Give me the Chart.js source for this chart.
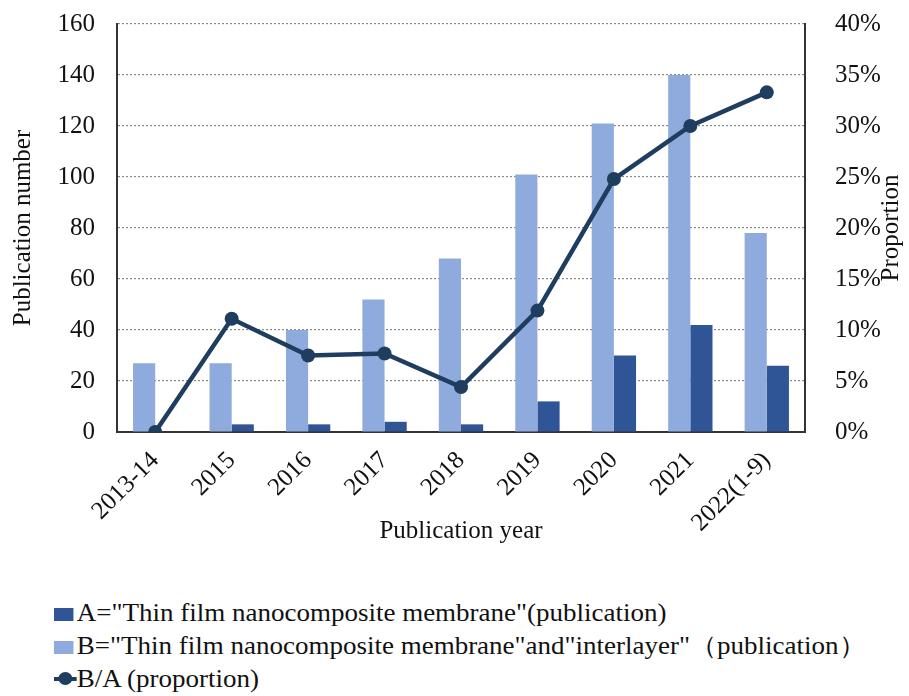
<!DOCTYPE html>
<html>
<head>
<meta charset="utf-8">
<script src="https://cdn.jsdelivr.net/npm/chart.js@4"></script>
<style>
  body { margin: 0; background: #fff; }
  #wrap { position: relative; width: 909px; height: 696px; }
  #legend { position: absolute; left: 54px; top: 596px; font-family: "Liberation Serif", serif; font-size: 25px; color: #111;
    transform: scaleX(1.08); transform-origin: left top; }
  .item { display: flex; align-items: center; height: 33px; }
  .box { width: 18px; height: 13px; margin-right: 3px; margin-top: 3px; }
  .lineMark { position: relative; width: 21px; height: 19px; margin-right: 0; }
  .lineMark::before { content: ''; position: absolute; left: 0; right: 0; top: 8px; height: 4px; background: var(--c); }
  .lineMark::after { content: ''; position: absolute; left: 4px; top: 3px; width: 13px; height: 13px; border-radius: 50%; background: var(--c); }
</style>
</head>
<body>
<div id="wrap">
  <canvas id="chart" width="909" height="560"></canvas>
  <div id="legend"></div>
</div>
<script>
const years = ['2013-14', '2015', '2016', '2017', '2018', '2019', '2020', '2021', '2022(1-9)']
const pubA = [0, 3, 3, 4, 3, 12, 30, 42, 26]
const pubB = [27, 27, 40, 52, 68, 101, 121, 140, 78]
const proportion = [0, 11.1, 7.5, 7.7, 4.4, 11.9, 24.8, 30.0, 33.3]
const leftTicks = [0, 20, 40, 60, 80, 100, 120, 140, 160]
const rightTicks = [0, 5, 10, 15, 20, 25, 30, 35, 40]

const labelA = 'A="Thin film nanocomposite membrane"(publication)'
const labelB = 'B="Thin film nanocomposite membrane"and"interlayer"（publication）'
const labelC = 'B/A (proportion)'

const colorA = '#2F5597'
const colorB = '#8FAADC'
const colorLine = '#1F3D5F'
const serif = '"Liberation Serif", "Times New Roman", serif'
const tickFont = { family: serif, size: 25 }

// right axis title reads bottom-to-top like the left one
const rightTitle = {
  id: 'rightTitle',
  afterDraw(c) {
    const { ctx, chartArea } = c
    ctx.save()
    ctx.translate(891, (chartArea.top + chartArea.bottom) / 2)
    ctx.rotate(-Math.PI / 2)
    ctx.font = `25px ${serif}`
    ctx.fillStyle = '#111'
    ctx.textAlign = 'center'
    ctx.textBaseline = 'middle'
    ctx.fillText('Proportion', 0, 0)
    ctx.restore()
  }
}

// keep the plot top where the reference has it
function fitVertical(width) {
  return s => {
    s.width = width
    s.paddingTop = 0
    s.paddingBottom = 0
  }
}

const chart = new Chart(document.getElementById('chart'), {
  type: 'bar',
  data: {
    labels: years,
    datasets: [
      { label: labelB, data: pubB, backgroundColor: colorB, yAxisID: 'y', order: 1,
        categoryPercentage: 0.58, barPercentage: 1 },
      { label: labelA, data: pubA, backgroundColor: colorA, yAxisID: 'y', order: 1,
        categoryPercentage: 0.58, barPercentage: 1 },
      { type: 'line', label: labelC, data: proportion, yAxisID: 'y1', order: 0,
        borderColor: colorLine, backgroundColor: colorLine, borderWidth: 4.5,
        pointRadius: 7, pointBackgroundColor: colorLine, pointBorderWidth: 0 },
    ]
  },
  options: {
    responsive: false,
    animation: false,
    layout: { padding: { top: 24, left: 8, right: 8, bottom: 0 } },
    plugins: { legend: { display: false }, tooltip: { enabled: false } },
    scales: {
      x: {
        grid: { display: false },
        border: { display: true, color: '#333', width: 2 },
        ticks: { font: tickFont, color: '#111', minRotation: 45, maxRotation: 45, padding: 6 },
        title: { display: true, text: 'Publication year', font: tickFont, color: '#111', padding: { top: 0, bottom: 14 } },
        afterFit: s => { s.height = 128 },
      },
      y: {
        position: 'left', min: 0, max: 160,
        afterBuildTicks: s => { s.ticks = leftTicks.map(v => ({ value: v })) },
        grid: { color: '#8a8a8a', lineWidth: 1.2, drawTicks: false },
        border: { display: true, color: '#333', width: 2, dash: [2, 2] },
        ticks: { font: tickFont, color: '#111', padding: 22 },
        title: { display: true, text: 'Publication number', font: tickFont, color: '#111', padding: 0 },
        afterFit: fitVertical(109),
      },
      y1: {
        position: 'right', min: 0, max: 40,
        afterBuildTicks: s => { s.ticks = rightTicks.map(v => ({ value: v })) },
        grid: { display: false },
        border: { display: true, color: '#333', width: 2 },
        ticks: { font: tickFont, color: '#111', padding: 22, callback: v => v + '%' },
        afterFit: fitVertical(96),
      },
    }
  },
  plugins: [rightTitle]
})

// legend in the order of the reference: A, B, line
const legendItems = [
  { text: labelA, color: colorA, kind: 'box' },
  { text: labelB, color: colorB, kind: 'box' },
  { text: labelC, color: colorLine, kind: 'line' },
]
document.getElementById('legend').innerHTML = legendItems.map(it =>
  `<div class="item"><span class="${it.kind === 'box' ? 'box' : 'lineMark'}" style="background:${it.kind === 'box' ? it.color : 'none'};--c:${it.color}"></span><span>${it.text}</span></div>`
).join('')
</script>
</body>
</html>
